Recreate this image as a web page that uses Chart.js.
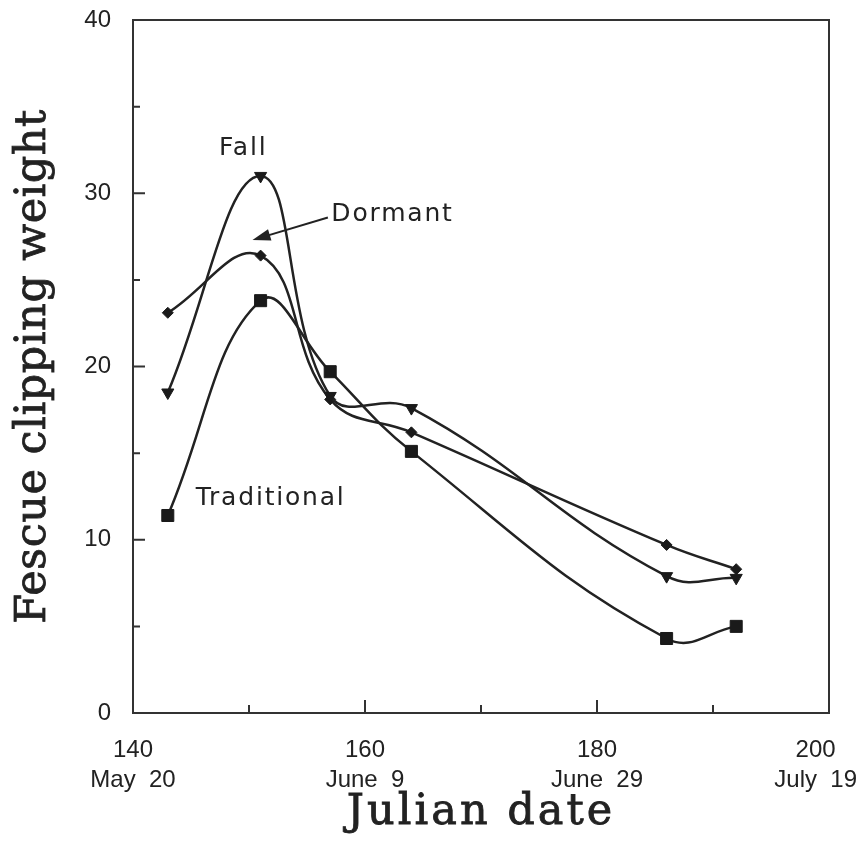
<!DOCTYPE html>
<html>
<head>
<meta charset="utf-8">
<script src="https://cdn.jsdelivr.net/npm/chart.js@4"></script>
<style>
  html, body { margin: 0; padding: 0; background: #fff; }
  #wrap { width: 863px; height: 842px; }
</style>
</head>
<body>
<div id="wrap"><canvas id="chart" width="863" height="842"></canvas></div>
<script>
// julian dates of the clippings
const days = [143, 151, 157, 164, 186, 192];
const fall = [18.5, 31.0, 18.3, 17.6, 7.9, 7.8];
const dormant = [23.1, 26.4, 18.1, 16.2, 9.7, 8.3];
const traditional = [11.4, 23.8, 19.7, 15.1, 4.3, 5.0];

const xTicks = [140, 160, 180, 200];
const dateNames = ["May  20", "June  9", "June  29", "July  19"];
const yTicks = [0, 10, 20, 30, 40];

const ink = "#222";
const tickFont = { family: "Liberation Sans", size: 24 };

function pts(vals) {
  return days.map((d, i) => ({ x: d, y: vals[i] }));
}

// box, inward ticks, labels on the plot and axis titles
const decor = {
  id: "decor",
  beforeDatasetsDraw(chart) {
    const { ctx, chartArea: a, scales: { x, y } } = chart;
    ctx.save();
    ctx.strokeStyle = "#333";
    ctx.lineWidth = 2;
    ctx.strokeRect(a.left, a.top, a.right - a.left, a.bottom - a.top);
    ctx.beginPath();
    for (let v = 5; v < 40; v += 5) {
      const py = y.getPixelForValue(v);
      const len = v % 10 === 0 ? 12 : 7;
      ctx.moveTo(a.left, py);
      ctx.lineTo(a.left + len, py);
    }
    for (let v = 150; v < 200; v += 10) {
      const px = x.getPixelForValue(v);
      const len = v % 20 === 0 ? 13 : 8;
      ctx.moveTo(px, a.bottom);
      ctx.lineTo(px, a.bottom - len);
    }
    ctx.stroke();

    // x tick labels, two lines, kept inside the canvas
    ctx.fillStyle = ink;
    ctx.font = '24px "Liberation Sans"';
    ctx.textAlign = "center";
    ctx.textBaseline = "alphabetic";
    xTicks.forEach((v, i) => {
      const w = Math.max(ctx.measureText(String(v)).width, ctx.measureText(dateNames[i]).width);
      let cx = x.getPixelForValue(v);
      cx = Math.min(cx, chart.width - 6 - w / 2);
      ctx.fillText(String(v), cx, a.bottom + 44);
      ctx.fillText(dateNames[i], cx, a.bottom + 74);
    });
    ctx.restore();
  },
  afterDraw(chart) {
    const { ctx, chartArea: a, scales: { x, y } } = chart;
    ctx.save();
    ctx.fillStyle = ink;
    ctx.font = '25px "DejaVu Sans"';
    ctx.letterSpacing = "1.8px";
    ctx.textBaseline = "middle";
    ctx.textAlign = "center";
    ctx.fillText("Fall", x.getPixelForValue(149.5), y.getPixelForValue(32.6));
    ctx.textAlign = "left";
    ctx.fillText("Dormant", x.getPixelForValue(157.1), y.getPixelForValue(28.8));
    ctx.fillText("Traditional", x.getPixelForValue(145.4), y.getPixelForValue(12.4));

    // arrow to the dormant curve
    const x0 = x.getPixelForValue(156.8), y0 = y.getPixelForValue(28.6);
    const x1 = x.getPixelForValue(150.3), y1 = y.getPixelForValue(27.3);
    const ang = Math.atan2(y1 - y0, x1 - x0);
    ctx.strokeStyle = ink;
    ctx.lineWidth = 2;
    ctx.beginPath();
    ctx.moveTo(x0, y0);
    ctx.lineTo(x1 - 12 * Math.cos(ang), y1 - 12 * Math.sin(ang));
    ctx.stroke();
    ctx.beginPath();
    ctx.moveTo(x1, y1);
    ctx.lineTo(x1 - 18 * Math.cos(ang) + 6 * Math.sin(ang), y1 - 18 * Math.sin(ang) - 6 * Math.cos(ang));
    ctx.lineTo(x1 - 18 * Math.cos(ang) - 6 * Math.sin(ang), y1 - 18 * Math.sin(ang) + 6 * Math.cos(ang));
    ctx.closePath();
    ctx.fill();

    // axis titles, slightly heavier than the regular face
    ctx.font = '43px "DejaVu Serif"';
    ctx.textBaseline = "alphabetic";
    ctx.textAlign = "center";
    ctx.lineWidth = 0.8;
    ctx.letterSpacing = "3px";
    const tx = (a.left + a.right) / 2;
    ctx.fillText("Julian date", tx, 824);
    ctx.strokeText("Julian date", tx, 824);
    ctx.letterSpacing = "0.5px";
    ctx.translate(45, (a.top + a.bottom) / 2);
    ctx.rotate(-Math.PI / 2);
    ctx.fillText("Fescue clipping weight", 0, 0);
    ctx.strokeText("Fescue clipping weight", 0, 0);
    ctx.restore();
  }
};

function series(label, vals, style, size, rot) {
  return {
    label: label,
    data: pts(vals),
    borderColor: ink,
    borderWidth: 2.5,
    backgroundColor: "#1a1a1a",
    pointBackgroundColor: "#1a1a1a",
    pointBorderColor: "#1a1a1a",
    pointBorderWidth: 1,
    pointStyle: style,
    pointRadius: size,
    pointRotation: rot || 0,
    tension: 0.42,
    fill: false
  };
}

function noPad(s) {
  s.paddingLeft = 0;
  s.paddingRight = 0;
  s.paddingTop = 0;
  s.paddingBottom = 0;
}

new Chart(document.getElementById("chart"), {
  type: "line",
  data: {
    datasets: [
      series("Fall", fall, "triangle", 7, 180),
      series("Dormant", dormant, "rectRot", 5.5),
      series("Traditional", traditional, "rect", 8.5)
    ]
  },
  options: {
    responsive: false,
    animation: false,
    clip: false,
    layout: { padding: { left: 0, right: 34, top: 20, bottom: 0 } },
    plugins: { legend: { display: false }, tooltip: { enabled: false } },
    scales: {
      x: {
        type: "linear",
        min: 140,
        max: 200,
        grid: { display: false, drawTicks: false },
        border: { display: false },
        afterFit(s) { s.height = 129; noPad(s); },
        afterBuildTicks(s) { s.ticks = xTicks.map(v => ({ value: v })); },
        ticks: { display: false }
      },
      y: {
        min: 0,
        max: 40,
        grid: { display: false, drawTicks: false },
        border: { display: false },
        afterFit(s) { s.width = 133; noPad(s); },
        afterBuildTicks(s) { s.ticks = yTicks.map(v => ({ value: v })); },
        ticks: { color: ink, font: tickFont, padding: 22 }
      }
    }
  },
  plugins: [decor]
});
</script>
</body>
</html>
